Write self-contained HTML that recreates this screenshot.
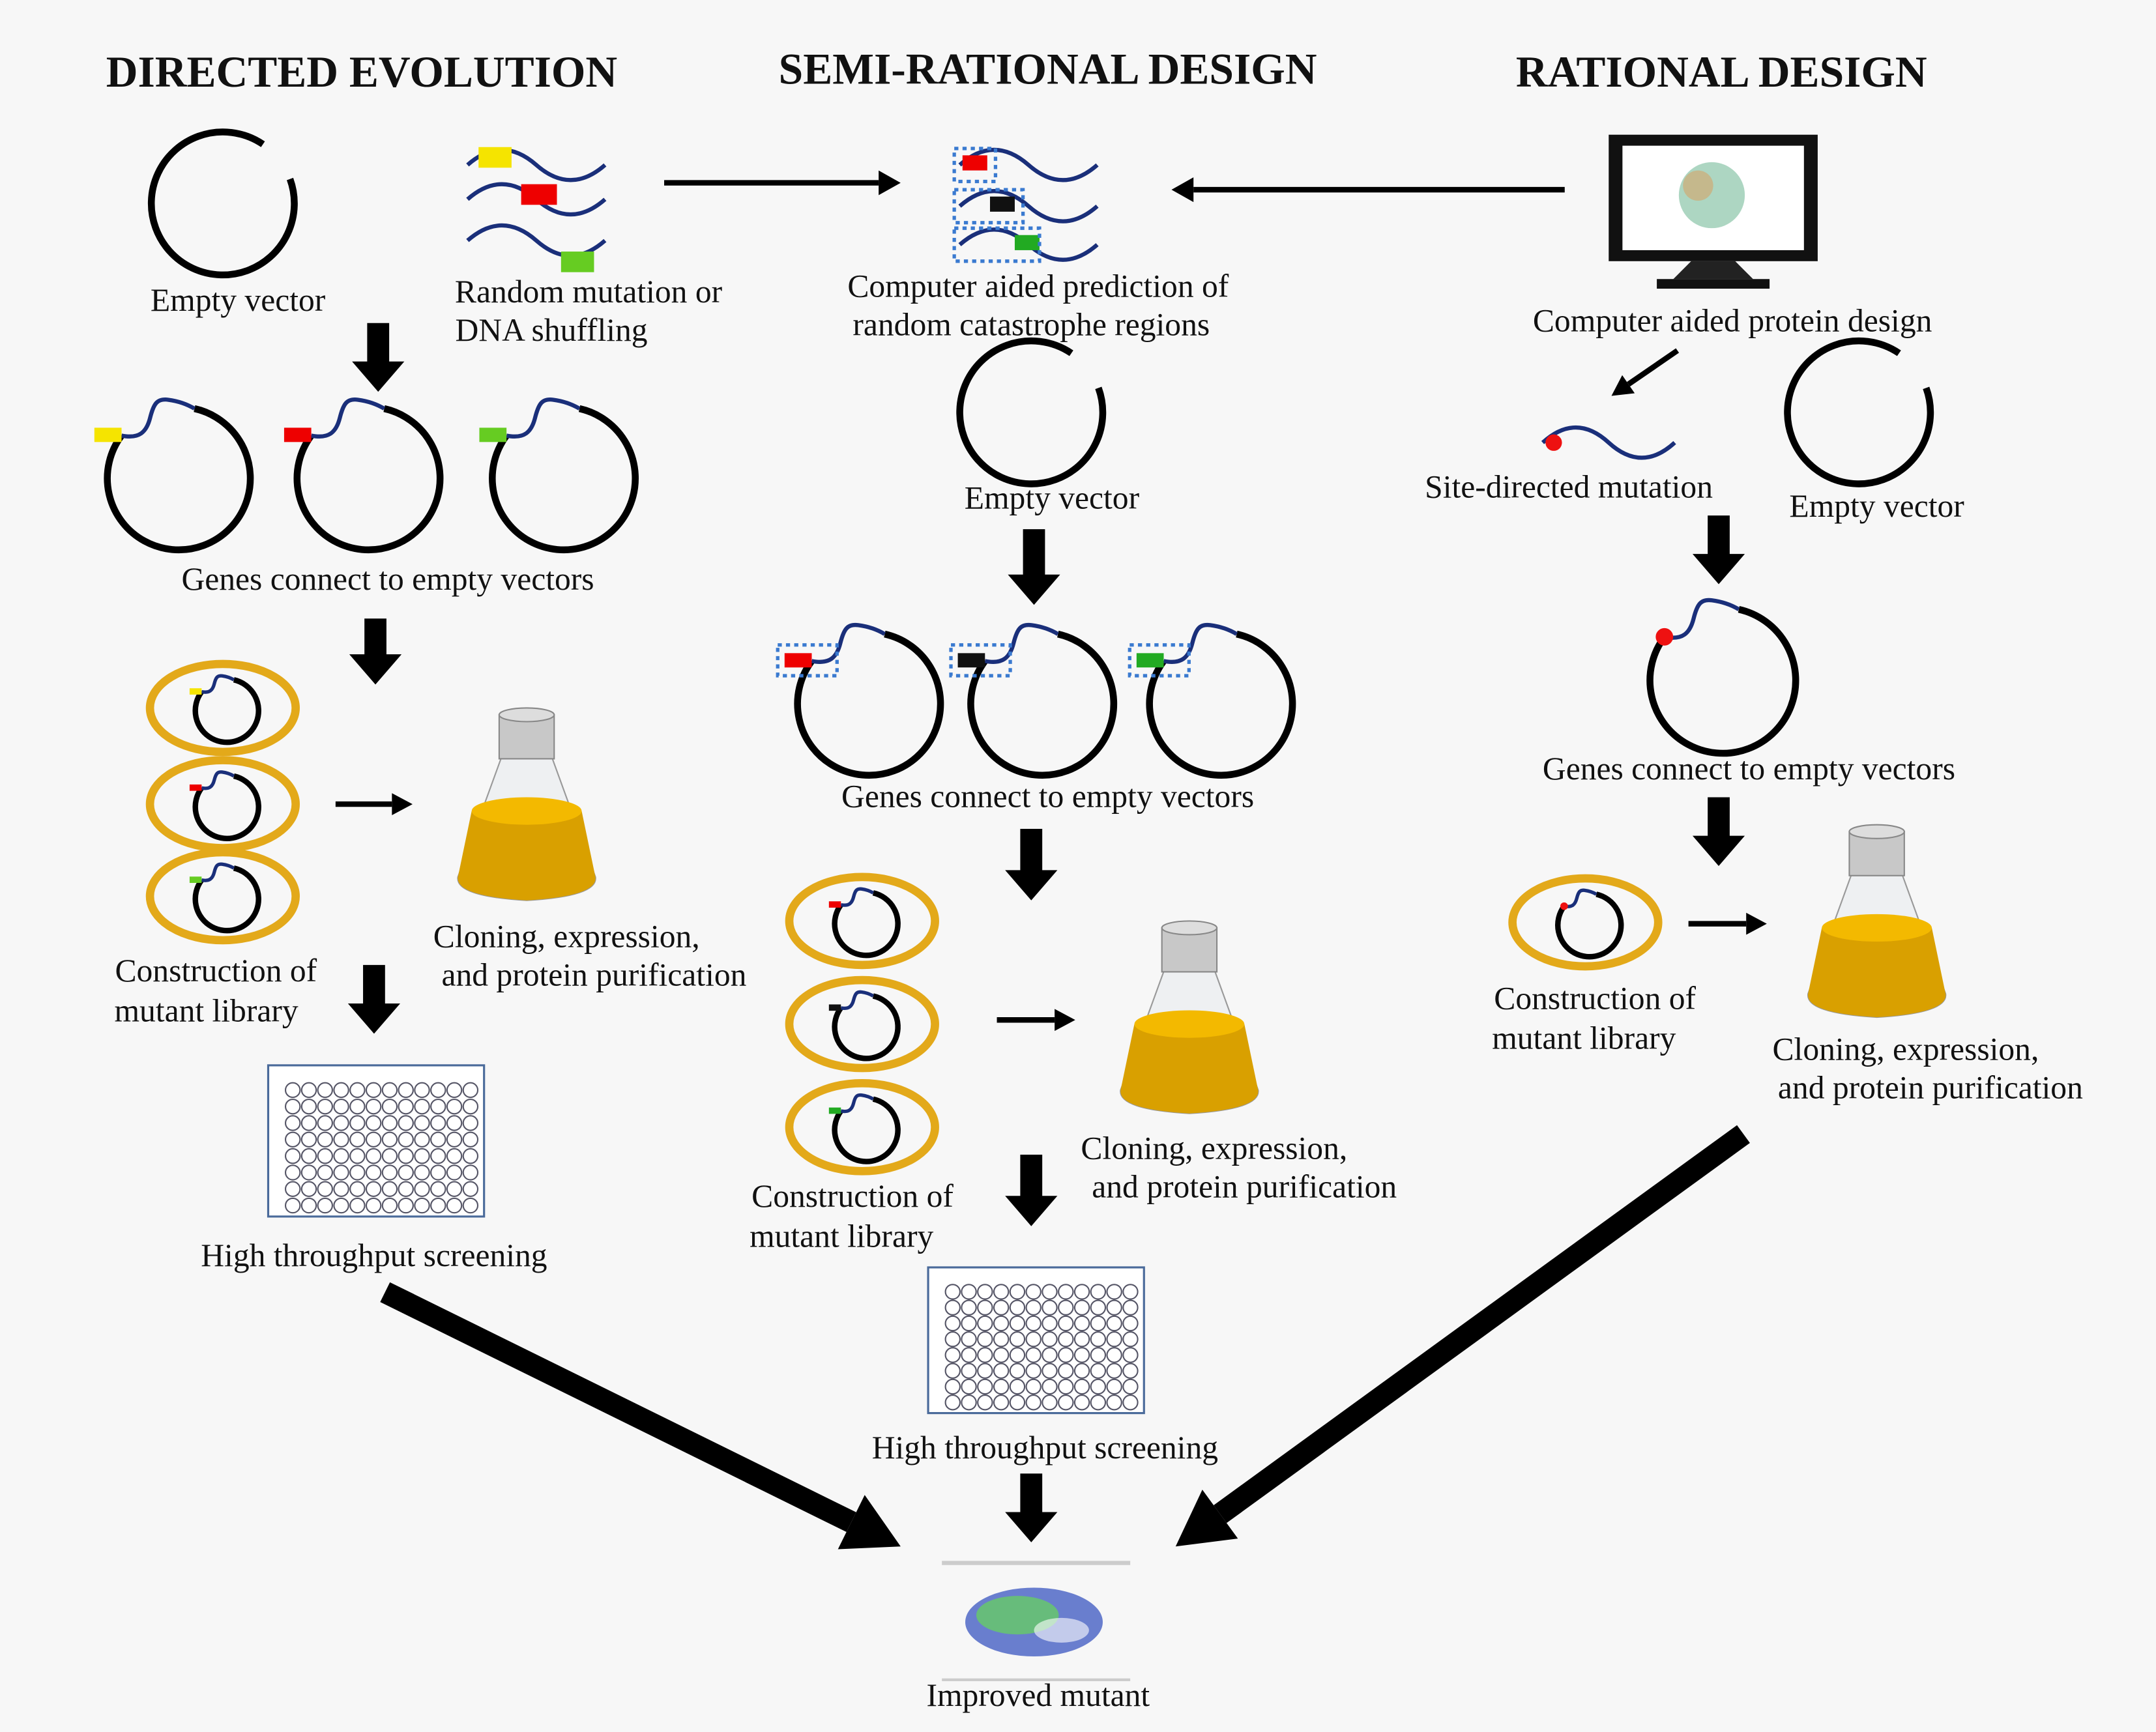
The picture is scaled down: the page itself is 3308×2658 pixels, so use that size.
<!DOCTYPE html>
<html><head><meta charset="utf-8"><style>
html,body{margin:0;padding:0;background:#f7f7f7}
svg{display:block}
text{font-family:"Liberation Serif",serif;fill:#111}
.t{font-size:23.5px;text-anchor:middle}
.h{font-size:32px;font-weight:bold;text-anchor:middle}
</style></head><body>
<svg id="s" width="3308" height="2658" viewBox="0 0 1568 1260" xmlns="http://www.w3.org/2000/svg">
<rect width="1568" height="1260" fill="#f7f7f7"/>
<text class="h" x="263" y="63">DIRECTED EVOLUTION</text>
<text class="h" x="762" y="61">SEMI-RATIONAL DESIGN</text>
<text class="h" x="1252" y="63">RATIONAL DESIGN</text>
<g id="g"></g>
<text class="t" x="173" y="226">Empty vector</text>
<text class="t" x="428" y="220">Random mutation or</text>
<text class="t" x="401" y="248">DNA shuffling</text>
<text class="t" x="755" y="216">Computer aided prediction of</text>
<text class="t" x="750" y="244">random catastrophe regions</text>
<text class="t" x="1260" y="241">Computer aided protein design</text>
<text class="t" x="282" y="429">Genes connect to empty vectors</text>
<text class="t" x="765" y="370">Empty vector</text>
<text class="t" x="1141" y="362">Site-directed mutation</text>
<text class="t" x="1365" y="376">Empty vector</text>
<text class="t" x="762" y="587">Genes connect to empty vectors</text>
<text class="t" x="1272" y="567">Genes connect to empty vectors</text>
<text class="t" x="412" y="689">Cloning, expression,</text>
<text class="t" x="432" y="717">and protein purification</text>
<text class="t" x="157" y="714">Construction of</text>
<text class="t" x="150" y="743">mutant library</text>
<text class="t" x="272" y="921">High throughput screening</text>
<text class="t" x="620" y="878">Construction of</text>
<text class="t" x="612" y="907">mutant library</text>
<text class="t" x="883" y="843">Cloning, expression,</text>
<text class="t" x="905" y="871">and protein purification</text>
<text class="t" x="760" y="1061">High throughput screening</text>
<text class="t" x="1160" y="734">Construction of</text>
<text class="t" x="1152" y="763">mutant library</text>
<text class="t" x="1386" y="771">Cloning, expression,</text>
<text class="t" x="1404" y="799">and protein purification</text>
<text class="t" x="755" y="1241">Improved mutant</text>
</svg>
<script>
const g=document.getElementById('g');let h='';
function vec(cx,cy,r,rot){const C=2*Math.PI*r;h+=`<circle cx="${cx}" cy="${cy}" r="${r}" fill="none" stroke="#000" stroke-width="5" stroke-dasharray="${C*0.9} ${C*0.1}" transform="rotate(${rot} ${cx} ${cy})"/>`;}
function gvec(cx,cy,r,col,dot,box){
 const a0=-1.35,a1=-2.5;
 const x0=cx+r*Math.cos(a0),y0=cy+r*Math.sin(a0),x1=cx+r*Math.cos(a1),y1=cy+r*Math.sin(a1);
 h+=`<path d="M${x0} ${y0} A${r} ${r} 0 1 1 ${x1} ${y1}" fill="none" stroke="#000" stroke-width="${r>40?5:4}"/>`;
 h+=`<path d="M${x1} ${y1} C${x1+r*0.25} ${y1+r*0.05} ${x1+r*0.35} ${y1-r*0.05} ${x1+r*0.4} ${y1-r*0.25} S${x1+r*0.5} ${cy-r*1.12} ${cx-r*0.15} ${cy-r*1.1} S${x0-r*0.1} ${y0-r*0.06} ${x0} ${y0}" fill="none" stroke="#1a2f7a" stroke-width="${r>40?3:2.5}"/>`;
 if(dot)h+=`<circle cx="${x1}" cy="${y1}" r="${r*0.12}" fill="#e11"/>`;
 else h+=`<rect x="${x1-r*0.38}" y="${y1-r*0.11}" width="${r*0.38}" height="${r*0.2}" fill="${col}"/>`;
 if(box)h+=`<rect x="${x1-r*0.38-5}" y="${y1-r*0.11-6}" width="${r*0.38+r*0.45}" height="${r*0.2+12}" fill="none" stroke="#3a7ad0" stroke-width="2.5" stroke-dasharray="3 3"/>`;}
function dn(x,y1,y3,w=8,hw=19){const y2=y3-22;h+=`<path d="M${x-w} ${y1}H${x+w}V${y2}H${x+hw}L${x} ${y3}L${x-hw} ${y2}H${x-w}Z" fill="#000"/>`;}
function ar(x1,y1,x2,y2,sw,hl,hw){const a=Math.atan2(y2-y1,x2-x1),c=Math.cos(a),s=Math.sin(a);const bx=x2-c*hl,by=y2-s*hl;
 h+=`<line x1="${x1}" y1="${y1}" x2="${bx}" y2="${by}" stroke="#000" stroke-width="${sw}"/><path d="M${x2} ${y2}L${bx-s*hw} ${by+c*hw}L${bx+s*hw} ${by-c*hw}Z" fill="#000"/>`;}
function wave(x,y,w){h+=`<path d="M${x} ${y} q${w*0.25} -22 ${w*0.5} 0 t${w*0.5} 0" fill="none" stroke="#1a2f7a" stroke-width="3"/>`;}
function cell(cx,cy,col,dot){h+=`<ellipse cx="${cx}" cy="${cy}" rx="53" ry="32" fill="none" stroke="#e3a91a" stroke-width="6"/>`;gvec(cx+3,cy+2,23,col,dot);}
function flask(cx,top){h+=`<path d="M${cx-18} ${top+30}L${cx-50} ${top+118}Q${cx-52} ${top+132} ${cx} ${top+135}Q${cx+52} ${top+132} ${cx+50} ${top+118}L${cx+18} ${top+30}Z" fill="#eef0f2" stroke="#999" stroke-width="1"/>
<path d="M${cx-40} ${top+70}L${cx-50} ${top+118}Q${cx-52} ${top+132} ${cx} ${top+135}Q${cx+52} ${top+132} ${cx+50} ${top+118}L${cx+40} ${top+70}Z" fill="#d9a000"/>
<ellipse cx="${cx}" cy="${top+70}" rx="40" ry="10" fill="#f3b900"/>
<rect x="${cx-20}" y="${top}" width="40" height="32" fill="#c8c8c8" stroke="#888"/><ellipse cx="${cx}" cy="${top}" rx="20" ry="5" fill="#ddd" stroke="#888"/>`;}
function plate(x,y,w,hh){h+=`<rect x="${x}" y="${y}" width="${w}" height="${hh}" fill="#fff" stroke="#4a6a9a" stroke-width="1.5"/>`;const dx=(w-16)/12,dy=(hh-14)/8;
 for(let i=0;i<12;i++)for(let j=0;j<8;j++)h+=`<circle cx="${x+12+dx*i+dx/2}" cy="${y+12+dy*j+dy/2}" r="${dx*0.45}" fill="#fff" stroke="#556" stroke-width="1"/>`;}
vec(162,148,52,-20);
wave(340,120,100);wave(340,145,100);wave(340,175,100);
h+=`<rect x="348" y="107" width="24" height="15" fill="#f5e400"/><rect x="379" y="134" width="26" height="15" fill="#e00"/><rect x="408" y="183" width="24" height="15" fill="#6c2"/>`;
ar(483,133,655,133,4,16,9);ar(1138,138,852,138,4,16,9);
[[120,'#e00'],[150,'#111'],[178,'#2a2']].forEach(([y,c],i)=>{wave(698,y,100);h+=`<rect x="${[700,720,738][i]}" y="${y-7}" width="18" height="11" fill="${c}"/><rect x="694" y="${y-12}" width="${[30,50,62][i]}" height="24" fill="none" stroke="#3a7ad0" stroke-width="2.5" stroke-dasharray="3 3"/>`;});
h+=`<rect x="1170" y="98" width="152" height="92" fill="#111"/><rect x="1180" y="106" width="132" height="76" fill="#fff"/><circle cx="1245" cy="142" r="24" fill="#7b9" opacity=".6"/><circle cx="1235" cy="135" r="11" fill="#d95" opacity=".5"/><path d="M1230 190L1262 190L1275 203L1217 203Z" fill="#222"/><rect x="1205" y="203" width="82" height="7" fill="#111"/>`;
dn(275,235,285);
gvec(130,348,52,'#f5e400');gvec(268,348,52,'#e00');gvec(410,348,52,'#6c2');
dn(273,450,498);
cell(162,515,'#f5e400');cell(162,585,'#e00');cell(162,652,'#6c2');
ar(244,585,300,585,4,15,8);flask(383,520);
dn(272,702,752);plate(195,775,157,110);
vec(750,300,52,-20);dn(752,385,440);
gvec(632,512,52,'#e00',0,1);gvec(758,512,52,'#111',0,1);gvec(888,512,52,'#2a2',0,1);
dn(750,603,655);
cell(627,670,'#e00');cell(627,745,'#111');cell(627,820,'#2a2');
ar(725,742,782,742,4,15,8);flask(865,675);
dn(750,840,892);plate(675,922,157,106);dn(750,1072,1122);
ar(1220,255,1172,288,4,15,8);wave(1122,322,96);h+=`<circle cx="1130" cy="322" r="6" fill="#e11"/>`;
vec(1352,300,52,-20);dn(1250,375,425);
gvec(1253,495,53,'',1);dn(1250,580,630);
cell(1153,671,'',1);ar(1228,672,1285,672,4,15,8);flask(1365,605);
ar(280,940,655,1125,16,40,22);ar(1268,825,855,1125,16,40,22);
h+=`<line x1="685" y1="1137" x2="822" y2="1137" stroke="#ccc" stroke-width="3"/><line x1="685" y1="1222" x2="822" y2="1222" stroke="#ccc" stroke-width="2"/>
<ellipse cx="752" cy="1180" rx="50" ry="25" fill="#3a55c0" opacity=".75"/><ellipse cx="740" cy="1175" rx="30" ry="14" fill="#6c6" opacity=".8"/><ellipse cx="772" cy="1186" rx="20" ry="9" fill="#fff" opacity=".6"/>`;
g.innerHTML=h;
</script>
</body></html>
